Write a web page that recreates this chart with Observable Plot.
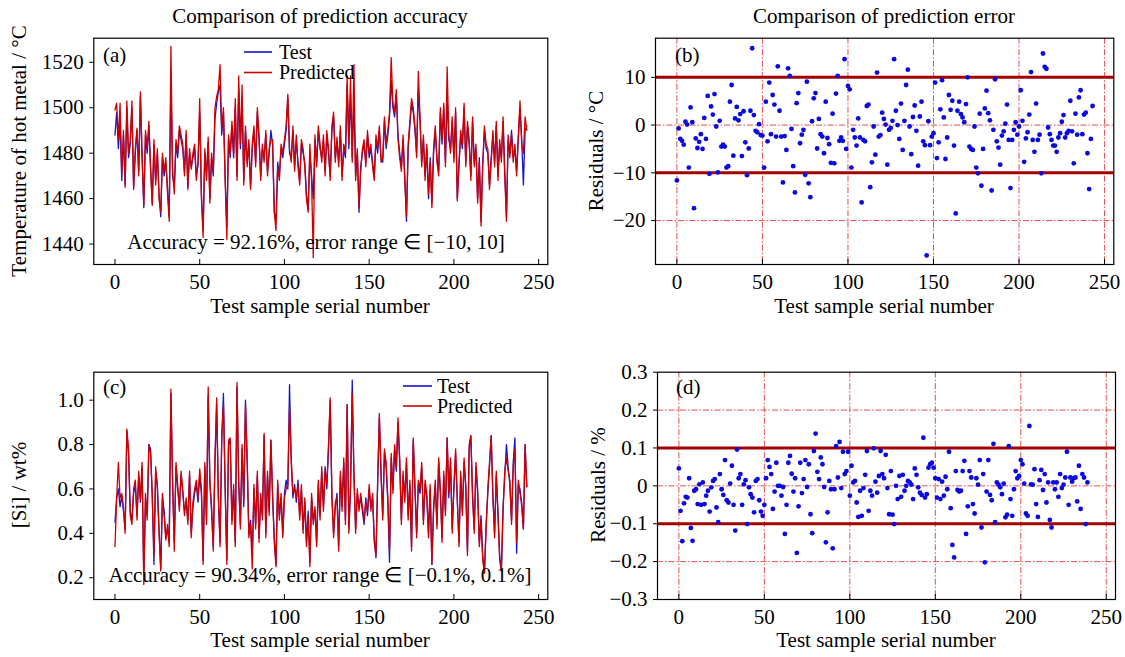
<!DOCTYPE html>
<html><head><meta charset="utf-8">
<script src="https://cdn.jsdelivr.net/npm/d3@7"></script>
<script src="https://cdn.jsdelivr.net/npm/@observablehq/plot@0.6"></script>
<style>
body{margin:0;background:#fff;}
#wrap{position:relative;width:1125px;height:657px;overflow:hidden;background:#fff;}
#wrap svg{position:absolute;overflow:visible;max-width:none;}
</style></head><body><div id="wrap"></div>
<script>
// ---------- data ----------
const xTicks = [0, 50, 100, 150, 200, 250];
const yTicksA = [1440, 1460, 1480, 1500, 1520];
const yTicksB = [-20, -10, 0, 10];
const yTicksC = [0.2, 0.4, 0.6, 0.8, 1.0];
const yTicksD = [-0.3, -0.2, -0.1, 0, 0.1, 0.2, 0.3];
const limitsB = [-10, 10];
const limitsD = [-0.1, 0.1];
const gridB = [-20, 0];
const gridD = [-0.2, 0, 0.2];

const testA = [
1488,1498,1482,1494,1468,1488,1466,1500,1478,1484,
1500,1465,1480,1490,1472,1505,1478,1456,1488,1480,
1492,1474,1458,1484,1468,1480,1462,1452,1478,1470,
1476,1465,1452,1512,1470,1466,1484,1478,1490,1486,
1482,1472,1488,1465,1480,1474,1478,1482,1470,1475,
1498,1462,1446,1480,1470,1485,1460,1478,1470,1495,
1502,1507,1510,1488,1498,1470,1448,1486,1478,1492,
1478,1500,1470,1508,1482,1502,1468,1490,1476,1484,
1465,1482,1490,1476,1498,1486,1470,1482,1478,1488,
1472,1480,1490,1484,1454,1450,1476,1470,1482,1478,
1484,1490,1504,1480,1478,1490,1474,1486,1476,1468,
1484,1480,1476,1462,1455,1480,1470,1460,1486,1476,
1490,1482,1478,1486,1472,1488,1480,1470,1490,1496,
1478,1485,1476,1490,1470,1482,1478,1510,1482,1506,
1478,1504,1470,1480,1454,1474,1480,1484,1476,1488,
1478,1482,1476,1470,1486,1480,1490,1478,1476,1494,
1482,1488,1496,1512,1500,1496,1506,1488,1480,1474,
1486,1470,1450,1482,1492,1502,1498,1490,1480,1508,
1494,1476,1486,1470,1482,1460,1478,1458,1480,1490,
1478,1472,1498,1484,1500,1476,1504,1486,1482,1494,
1478,1498,1460,1476,1488,1482,1500,1476,1492,1484,
1470,1494,1476,1482,1460,1478,1450,1476,1490,1482,
1480,1466,1478,1488,1476,1492,1470,1484,1478,1494,
1472,1452,1486,1480,1490,1478,1482,1472,1486,1500,
1486,1466,1490,1492];
const predA = [
1499,1502,1486,1502,1471,1490,1465,1503,1480,1485,
1503,1464,1482,1491,1470,1507,1479,1457,1490,1482,
1494,1473,1457,1486,1466,1482,1460,1454,1480,1472,
1478,1462,1450,1527,1472,1462,1486,1480,1492,1488,
1484,1470,1490,1464,1482,1473,1480,1484,1468,1476,
1504,1460,1443,1482,1468,1487,1458,1480,1472,1500,
1505,1508,1519,1490,1500,1468,1442,1488,1480,1494,
1480,1504,1468,1514,1484,1510,1466,1492,1474,1486,
1464,1484,1492,1474,1500,1488,1468,1484,1476,1490,
1470,1482,1486,1486,1454,1446,1474,1468,1484,1480,
1486,1492,1506,1482,1476,1492,1472,1488,1474,1466,
1486,1482,1474,1460,1454,1484,1468,1434,1488,1474,
1492,1484,1476,1488,1470,1490,1482,1468,1492,1498,
1476,1487,1474,1492,1468,1484,1480,1514,1484,1514,
1476,1519,1468,1482,1456,1472,1482,1486,1474,1490,
1480,1484,1474,1468,1488,1482,1492,1476,1478,1496,
1484,1490,1498,1522,1502,1498,1508,1486,1478,1472,
1488,1468,1452,1484,1494,1504,1500,1492,1478,1516,
1496,1474,1488,1468,1484,1462,1476,1456,1482,1492,
1476,1470,1500,1486,1502,1474,1518,1488,1480,1496,
1476,1500,1459,1474,1490,1484,1502,1474,1494,1486,
1468,1496,1474,1484,1458,1476,1448,1474,1492,1484,
1482,1464,1476,1490,1474,1494,1468,1486,1476,1496,
1470,1450,1488,1478,1488,1476,1484,1470,1488,1503,
1484,1480,1496,1490];

const residB = [
-11.6,-0.7,-2.9,-3.3,-4.1,0.7,0.1,-8.9,3.7,0.6,
-17.4,-2.8,-4.8,-3.5,-1.9,-5.0,1.5,-2.9,6.1,-10.2,
3.9,2.2,6.5,-0.3,-9.9,0.9,-4.5,-4.1,-4.5,-8.9,
-8.6,4.9,8.4,-6.4,1.4,3.8,1.0,2.3,-6.5,2.9,
-3.6,-10.5,-4.9,3.0,16.1,2.1,-1.2,-1.5,0.2,-2.1,
-2.2,-8.9,4.9,-3.4,8.9,-1.9,6.3,4.3,-2.4,12.3,
3.0,-2.4,-12.0,-2.3,-5.2,11.9,10.3,-0.8,-8.6,-14.1,
4.6,6.7,-3.8,-2.0,-1.0,-10.4,9.1,-12.2,-15.1,0.8,
5.6,6.7,-4.9,1.3,-1.9,-2.4,-5.9,4.9,-2.7,-4.0,
-7.9,2.4,-8.0,6.6,10.3,-3.3,-2.6,-3.3,13.8,-5.0,
8.2,7.5,-8.9,-1.0,-2.6,-4.3,1.4,-2.6,-16.2,-3.1,
-3.4,4.0,4.3,-13.0,-7.8,-0.3,-6.2,11.0,-2.4,-2.1,
2.6,1.3,0.1,-8.3,-1.0,-0.6,0.9,13.8,3.0,0.0,
-2.9,4.5,-5.2,0.9,8.4,11.6,-0.3,-6.1,1.7,4.1,
-1.2,-8.5,1.8,4.9,-3.4,-4.2,-27.3,0.8,-4.2,-2.4,
-1.7,8.9,-6.9,-3.6,3.3,9.4,1.6,-7.1,-2.6,6.3,
3.2,5.1,-4.3,-18.5,3.0,4.9,2.3,1.6,0.6,4.4,
10.0,-4.5,-5.0,-5.2,-0.3,-8.9,-10.1,2.4,-12.7,-5.0,
3.5,7.2,2.5,1.0,-13.7,-1.0,9.6,-3.4,-4.7,-8.3,
-2.2,-1.3,0.3,4.3,-3.1,-13.2,-3.1,-1.0,0.6,-2.0,
-0.3,7.3,0.9,-7.7,-2.8,-1.5,2.2,11.1,-3.1,-5.6,
4.5,-3.1,-2.0,-10.1,15.0,12.2,11.8,-0.5,-1.9,-3.1,
-4.3,-4.3,-5.6,-2.6,-1.7,0.7,2.1,-2.6,-1.7,-1.2,
5.1,-1.3,-8.0,2.4,-2.0,5.8,7.3,-1.9,2.2,2.6,
-5.9,-13.4,-2.9,4.0];

const testC = [
0.45,0.56,0.60,0.52,0.57,0.50,0.42,0.86,0.76,0.50,
0.46,0.58,0.62,0.48,0.66,0.54,0.70,0.20,0.56,0.48,
0.80,0.78,0.56,0.26,0.68,0.62,0.42,0.24,0.56,0.50,
0.38,0.42,0.36,1.03,0.62,0.36,0.70,0.60,0.52,0.66,
0.58,0.50,0.54,0.46,0.66,0.40,0.52,0.58,0.62,0.54,
0.66,0.58,0.28,0.70,0.46,1.02,0.62,0.50,0.34,0.72,
0.98,0.56,0.36,0.82,1.03,0.60,0.28,0.80,0.82,0.46,
0.60,0.36,1.06,0.62,0.44,0.78,0.52,1.00,0.72,0.40,
0.46,0.30,0.60,0.44,0.66,0.38,0.56,0.48,0.84,0.40,
0.66,0.50,0.82,0.56,0.38,0.26,0.62,0.48,0.56,0.40,
0.58,0.64,0.60,1.07,0.72,0.56,0.62,0.54,0.64,0.48,
0.60,0.42,0.54,0.36,0.50,0.27,0.56,0.46,0.50,0.36,
0.62,0.48,0.68,0.52,0.70,0.60,0.78,1.00,0.56,0.40,
0.52,0.58,0.34,0.66,0.52,0.72,0.46,0.98,0.42,0.60,
1.09,0.66,0.42,0.58,0.52,0.56,0.50,0.44,0.56,0.48,
0.60,0.52,0.56,0.38,0.29,0.62,0.92,0.66,0.48,0.76,
0.70,0.54,0.27,0.74,0.60,0.78,0.68,0.90,0.72,0.46,
0.66,0.56,0.72,0.48,0.62,0.34,0.82,0.60,0.40,0.62,
0.58,0.70,0.46,0.62,0.56,0.40,0.60,0.26,0.52,0.62,
0.44,0.72,0.58,0.38,0.66,0.50,0.83,0.56,0.72,0.42,
0.60,0.76,0.54,0.36,0.66,0.50,0.72,0.62,0.32,0.78,
0.84,0.56,0.42,0.70,0.58,0.36,0.48,0.30,0.22,0.44,
0.58,0.70,0.84,0.56,0.40,0.66,0.50,0.30,0.23,0.52,
0.66,0.80,0.70,0.62,0.46,0.72,0.83,0.31,0.62,0.60,
0.52,0.42,0.80,0.61];
const predC = [
0.34,0.56,0.72,0.56,0.58,0.52,0.40,0.87,0.78,0.48,
0.44,0.60,0.64,0.46,0.68,0.55,0.72,0.17,0.58,0.46,
0.80,0.76,0.58,0.30,0.70,0.60,0.40,0.23,0.58,0.48,
0.37,0.44,0.34,1.05,0.64,0.32,0.72,0.62,0.50,0.68,
0.60,0.48,0.56,0.44,0.68,0.38,0.54,0.60,0.64,0.56,
0.69,0.60,0.26,0.72,0.44,1.06,0.64,0.52,0.32,0.74,
1.01,0.58,0.34,0.84,0.98,0.62,0.26,0.82,0.83,0.44,
0.62,0.34,1.08,0.64,0.42,0.80,0.54,0.98,0.74,0.38,
0.44,0.24,0.62,0.42,0.68,0.36,0.58,0.46,0.85,0.38,
0.68,0.48,0.82,0.58,0.36,0.25,0.64,0.46,0.58,0.38,
0.56,0.60,0.62,0.97,0.74,0.58,0.60,0.56,0.62,0.46,
0.62,0.40,0.56,0.34,0.48,0.25,0.58,0.44,0.52,0.34,
0.64,0.46,0.70,0.50,0.68,0.62,0.80,1.01,0.58,0.38,
0.54,0.56,0.32,0.68,0.50,0.74,0.44,0.98,0.40,0.62,
1.03,0.68,0.40,0.60,0.50,0.58,0.52,0.46,0.54,0.50,
0.62,0.50,0.58,0.36,0.30,0.64,0.94,0.68,0.46,0.78,
0.72,0.56,0.32,0.76,0.58,0.80,0.70,0.92,0.74,0.44,
0.68,0.54,0.74,0.46,0.64,0.32,0.83,0.62,0.38,0.64,
0.60,0.72,0.44,0.64,0.58,0.38,0.62,0.26,0.50,0.64,
0.42,0.74,0.60,0.36,0.68,0.48,0.83,0.58,0.74,0.40,
0.62,0.78,0.56,0.34,0.68,0.48,0.74,0.60,0.30,0.80,
0.84,0.58,0.40,0.72,0.60,0.34,0.46,0.28,0.22,0.42,
0.60,0.72,0.84,0.58,0.38,0.68,0.48,0.28,0.23,0.50,
0.68,0.74,0.68,0.64,0.44,0.70,0.78,0.36,0.64,0.58,
0.54,0.42,0.80,0.61];

const residD = [
0.046,-0.066,-0.146,-0.046,-0.029,-0.031,0.020,-0.111,-0.145,-0.013,
-0.009,-0.048,0.004,-0.050,0.009,-0.048,-0.026,-0.013,-0.068,-0.004,
0.013,0.018,-0.057,-0.096,0.031,-0.009,-0.024,0.068,-0.038,-0.044,
0.006,0.053,-0.050,-0.118,0.096,0.020,0.031,-0.050,0.004,0.015,
-0.101,-0.004,-0.022,-0.031,-0.070,0.013,0.018,-0.038,-0.068,-0.079,
-0.050,0.020,0.068,0.050,0.031,-0.061,-0.015,0.061,0.000,0.000,
-0.026,-0.003,-0.127,-0.050,0.061,0.079,0.032,-0.015,0.020,-0.177,
-0.054,0.061,-0.019,0.018,0.068,-0.003,0.057,-0.075,-0.125,0.092,
0.138,0.037,0.018,0.075,0.057,-0.003,-0.149,-0.070,0.013,-0.009,
-0.165,-0.009,0.105,0.022,0.116,-0.006,0.090,0.031,0.039,0.090,
-0.026,0.053,0.009,0.013,-0.044,-0.082,-0.013,-0.079,-0.006,0.029,
0.092,-0.066,-0.013,-0.026,0.099,0.011,-0.018,0.026,0.092,0.031,
0.020,0.082,-0.006,-0.075,0.039,-0.076,-0.101,0.000,-0.035,0.026,
-0.029,0.029,-0.013,0.000,0.013,0.009,0.003,-0.035,0.046,0.029,
-0.004,-0.018,-0.024,0.127,-0.031,-0.022,0.048,0.057,0.061,0.048,
0.020,-0.031,0.018,-0.035,0.011,-0.026,0.024,-0.009,0.090,-0.059,
-0.156,-0.189,0.039,-0.011,-0.015,-0.013,0.039,0.066,-0.127,-0.054,
0.039,0.022,-0.048,-0.073,0.020,0.003,0.068,-0.110,0.031,-0.202,
-0.015,0.068,-0.024,-0.038,0.111,-0.096,0.009,0.003,-0.004,-0.022,
0.006,-0.083,-0.076,0.105,-0.035,-0.079,-0.009,0.039,0.020,0.026,
0.068,0.057,0.006,-0.073,-0.079,0.158,0.004,0.003,0.044,-0.048,
-0.082,0.015,0.042,-0.011,0.031,-0.044,0.009,-0.090,-0.110,0.009,
-0.009,0.009,-0.029,0.031,-0.006,0.003,0.022,0.090,-0.050,0.022,
0.011,0.020,0.022,-0.041,0.053,-0.061,0.031,0.022,-0.101,0.009];

// ---------- drawing ----------
const FONT = '"Liberation Serif", "Times New Roman", Times, serif';
const X_DOMAIN = [-12.5, 255.4];
const BLUE = "#1414c8", RED = "#d00000", DOT = "#0a0ae0", DARKRED = "#a40000", GRID = "#e23a3a";
const wrap = document.getElementById("wrap");
const idx = (d, i) => i;
const val = d => d;

function panel(o) {
  const innerH = o.frameB - o.frameT;
  const chart = Plot.plot({
    width: o.w, height: o.h,
    marginLeft: o.frameL - o.left, marginRight: o.left + o.w - o.frameR,
    marginTop: o.frameT - o.top, marginBottom: o.top + o.h - o.frameB,
    style: {fontFamily: FONT, fontSize: "21px", background: "transparent", color: "black", overflow: "visible"},
    x: {domain: X_DOMAIN},
    y: {domain: o.yDomain},
    marks: [
      ...o.marks,
      Plot.tickX(xTicks, {x: val, insetTop: innerH - 5, stroke: "black", strokeWidth: 1}),
      Plot.axisX(xTicks, {tickSize: 0, tickPadding: 10, label: null}),
      Plot.axisY(o.yTicks, {tickSize: 4, tickPadding: 6, label: null, tickFormat: o.yFormat}),
      Plot.frame({stroke: "black", strokeWidth: 1.2})
    ]
  });
  chart.style.left = o.left + "px";
  chart.style.top = o.top + "px";
  wrap.appendChild(chart);
}

const gridMarks = (hLines) => [
  Plot.ruleX(xTicks, {x: val, stroke: GRID, strokeWidth: 0.9, strokeDasharray: "6,2,1.5,2"}),
  Plot.ruleY(hLines, {y: val, stroke: GRID, strokeWidth: 0.9, strokeDasharray: "6,2,1.5,2"})
];

// (a)
panel({left: 0, top: 0, w: 560, h: 330, frameL: 93.3, frameR: 547.3, frameT: 37.7, frameB: 264,
  yDomain: [1431, 1530.6], yTicks: yTicksA, yFormat: d3.format("d"),
  marks: [
    Plot.line(testA, {x: idx, y: val, stroke: BLUE, strokeWidth: 1.3, clip: true}),
    Plot.line(predA, {x: idx, y: val, stroke: RED, strokeWidth: 1.3, clip: true})
  ]});

// (b)
panel({left: 560, top: 0, w: 565, h: 330, frameL: 655, frameR: 1113.3, frameT: 37.7, frameB: 264,
  yDomain: [-29.2, 18.2], yTicks: yTicksB, yFormat: d3.format("d"),
  marks: [
    ...gridMarks(gridB),
    Plot.ruleY(limitsB, {y: val, stroke: DARKRED, strokeWidth: 3}),
    Plot.dot(residB, {x: idx, y: val, r: 2.4, fill: DOT, stroke: "none"})
  ]});

// (c)
panel({left: 0, top: 330, w: 560, h: 327, frameL: 93.3, frameR: 547.3, frameT: 371.7, frameB: 599,
  yDomain: [0.102, 1.126], yTicks: yTicksC, yFormat: d3.format(".1f"),
  marks: [
    Plot.line(testC, {x: idx, y: val, stroke: BLUE, strokeWidth: 1.3, clip: true}),
    Plot.line(predC, {x: idx, y: val, stroke: RED, strokeWidth: 1.3, clip: true})
  ]});

// (d)
panel({left: 560, top: 330, w: 565, h: 327, frameL: 657, frameR: 1115, frameT: 371.7, frameB: 599,
  yDomain: [-0.3, 0.3], yTicks: yTicksD, yFormat: d => Math.abs(d) < 1e-9 ? "0" : d3.format(".1f")(d),
  marks: [
    ...gridMarks(gridD),
    Plot.ruleY(limitsD, {y: val, stroke: DARKRED, strokeWidth: 3}),
    Plot.dot(residD, {x: idx, y: val, r: 2.4, fill: DOT, stroke: "none"})
  ]});

// ---------- text overlay ----------
const ov = d3.select(wrap).append("svg")
  .attr("width", 1125).attr("height", 657)
  .style("left", "0px").style("top", "0px")
  .attr("font-family", FONT);

function txt(s, x, y, o = {}) {
  const t = ov.append("text").attr("x", x).attr("y", y)
    .attr("font-size", o.size || 21)
    .attr("text-anchor", o.anchor || "start")
    .attr("fill", "black")
    .text(s);
  if (o.rot) t.attr("transform", `rotate(-90 ${x} ${y})`);
  return t;
}
function legLine(x1, x2, y, color) {
  ov.append("line").attr("x1", x1).attr("x2", x2).attr("y1", y).attr("y2", y)
    .attr("stroke", color).attr("stroke-width", 1.6);
}

txt("Comparison of prediction accuracy", 320, 23, {anchor: "middle"});
txt("Comparison of prediction error", 884, 23, {anchor: "middle"});

txt("Test sample serial number", 320, 313, {anchor: "middle"});
txt("Test sample serial number", 884, 313, {anchor: "middle"});
txt("Test sample serial number", 320, 647, {anchor: "middle"});
txt("Test sample serial number", 886, 647, {anchor: "middle"});

txt("Temperature of hot metal / °C", 26, 151, {anchor: "middle", rot: true});
txt("Residuals / °C", 603, 151, {anchor: "middle", rot: true});
txt("[Si] / wt%", 26, 485, {anchor: "middle", rot: true});
txt("Residuals / %", 605, 485, {anchor: "middle", rot: true});

txt("(a)", 103, 62);
txt("(b)", 675, 62);
txt("(c)", 103, 394);
txt("(d)", 676, 394);

txt("Accuracy = 92.16%, error range \u2208 [\u221210, 10]", 316, 249, {anchor: "middle"});
txt("Accuracy = 90.34%, error range \u2208 [\u22120.1%, 0.1%]", 320, 582, {anchor: "middle"});

legLine(244, 272, 52, BLUE);
legLine(244, 272, 72.5, RED);
txt("Test", 279, 58.5, {size: 20});
txt("Predicted", 279, 79, {size: 20});

legLine(403, 432, 386, BLUE);
legLine(403, 432, 406, RED);
txt("Test", 437, 392.5, {size: 20});
txt("Predicted", 437, 412.5, {size: 20});
</script>
</body></html>
